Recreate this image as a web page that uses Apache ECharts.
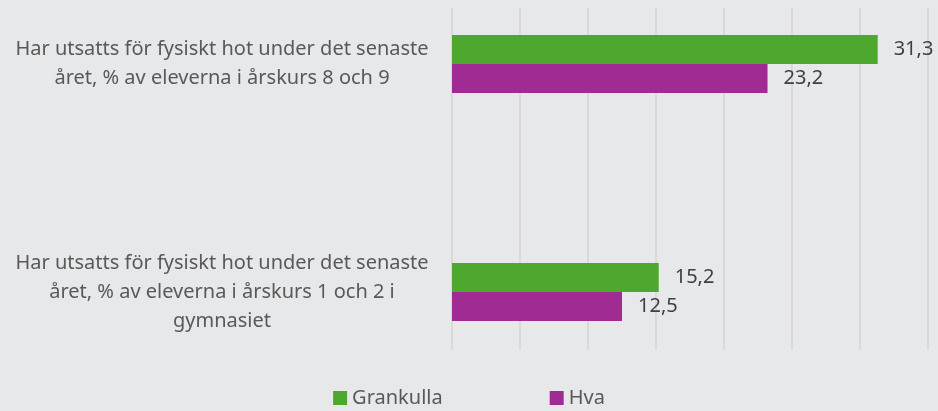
<!DOCTYPE html>
<html>
<head>
<meta charset="utf-8">
<script src="https://cdn.jsdelivr.net/npm/echarts@6/dist/echarts.min.js"></script>
<style>
  html, body { margin: 0; padding: 0; background: #e7e8ea; }
  #chart { width: 938px; height: 411px; }
</style>
</head>
<body>
<div id="chart"></div>
<script>
// data
const categories = [
  'Har utsatts för fysiskt hot under det senaste\nåret, % av eleverna i årskurs 8 och 9',
  'Har utsatts för fysiskt hot under det senaste\nåret, % av eleverna i årskurs 1 och 2 i\ngymnasiet'
]
const grankulla = [31.3, 15.2]
const hva = [23.2, 12.5]
const seriesNames = ['Grankulla', 'Hva']

const textFont = '"Noto Sans", sans-serif'
const fmt = p => String(p.value).replace('.', ',')

const chart = echarts.init(document.getElementById('chart'))

chart.setOption({
  backgroundColor: '#e7e8ea',
  animation: false,
  legend: {
    data: seriesNames,
    bottom: -2,
    left: 'center',
    icon: 'rect',
    itemWidth: 14,
    itemHeight: 14,
    itemGap: 107,
    textStyle: { color: '#595959', fontSize: 20, fontFamily: textFont }
  },
  grid: [
    // plot area holding the bars
    { left: 452, right: 10, top: 64, height: 228 },
    // plot area only used to draw the vertical gridlines
    { left: 452, right: 10, top: 8, height: 342 }
  ],
  xAxis: [
    {
      gridIndex: 0,
      type: 'value',
      min: 0,
      max: 35,
      interval: 5,
      axisLabel: { show: false },
      axisLine: { show: false },
      axisTick: { show: false },
      splitLine: { show: false }
    },
    {
      gridIndex: 1,
      type: 'value',
      min: 0,
      max: 35,
      interval: 5,
      axisLabel: { show: false },
      axisLine: { show: false },
      axisTick: { show: false },
      splitLine: { show: true, lineStyle: { color: '#d4d5d7', width: 1.5 } }
    }
  ],
  yAxis: [
    {
      gridIndex: 0,
      type: 'category',
      data: categories,
      inverse: true,
      boundaryGap: false,
      axisLine: { show: false },
      axisTick: { show: false },
      axisLabel: {
        margin: 230,
        align: 'center',
        color: '#595959',
        fontSize: 20,
        lineHeight: 29,
        fontFamily: textFont
      }
    },
    {
      gridIndex: 1,
      type: 'value',
      show: false
    }
  ],
  series: [
    {
      name: 'Grankulla',
      type: 'bar',
      xAxisIndex: 0,
      yAxisIndex: 0,
      data: grankulla,
      barWidth: 29,
      barGap: '0%',
      itemStyle: { color: '#4ea72e' },
      label: {
        show: true,
        position: 'right',
        distance: 16,
        color: '#404040',
        fontSize: 20,
        fontFamily: textFont,
        formatter: fmt
      }
    },
    {
      name: 'Hva',
      type: 'bar',
      xAxisIndex: 0,
      yAxisIndex: 0,
      data: hva,
      barWidth: 29,
      barGap: '0%',
      itemStyle: { color: '#a02b93' },
      label: {
        show: true,
        position: 'right',
        distance: 16,
        color: '#404040',
        fontSize: 20,
        fontFamily: textFont,
        formatter: fmt
      }
    }
  ]
})
</script>
</body>
</html>
